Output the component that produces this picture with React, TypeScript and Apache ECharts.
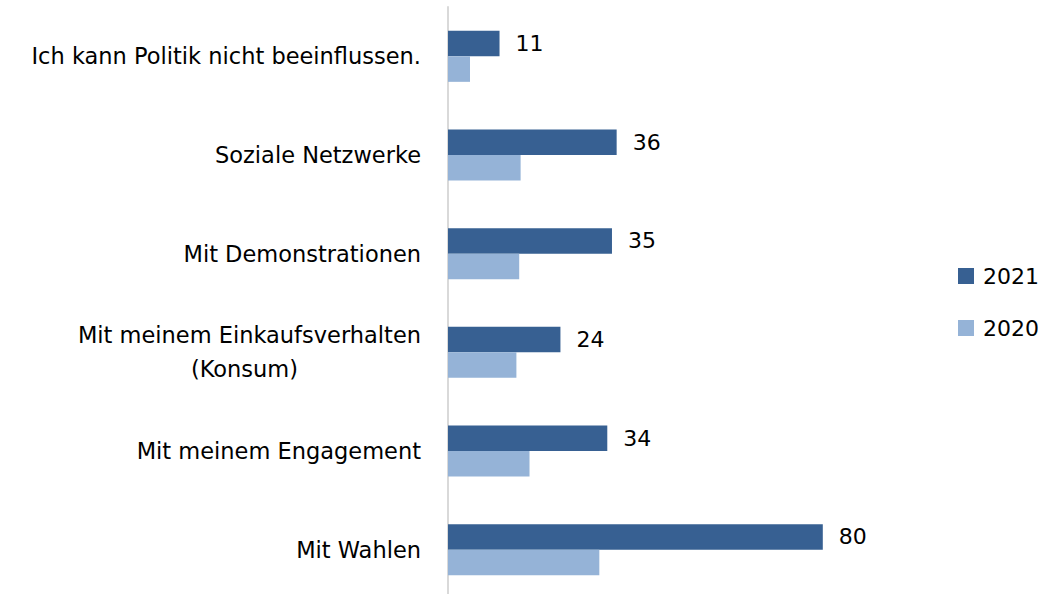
import React, { useEffect, useRef } from "react";
import * as echarts from "echarts";

const categories = [
  "Ich kann Politik nicht beeinflussen.",
  "Soziale Netzwerke",
  "Mit Demonstrationen",
  "Mit meinem Einkaufsverhalten\n(Konsum)",
  "Mit meinem Engagement",
  "Mit Wahlen",
];
const seriesNames = ["2021", "2020"];
const values2021 = [11, 36, 35, 24, 34, 80];
const values2020 = [4.7, 15.5, 15.2, 14.6, 17.4, 32.3];

const FONT = "DejaVu Sans";

export default function App() {
  const ref = useRef<HTMLDivElement>(null);
  useEffect(() => {
    document.body.style.margin = "0";
    const chart = echarts.init(ref.current!, null, { renderer: "svg" });
    chart.setOption({
      animation: false,
      backgroundColor: "#ffffff",
      textStyle: { fontFamily: FONT },
      legend: {
        data: seriesNames,
        orient: "vertical",
        left: 958,
        top: 265,
        padding: 0,
        itemWidth: 16,
        itemHeight: 16,
        itemGap: 30,
        icon: "rect",
        textStyle: { fontSize: 22, fontFamily: FONT, color: "#000", padding: [0, 0, 0, 4] },
      },
      grid: { left: 448, top: 7, width: 468.5, height: 592, outerBoundsMode: "none", containLabel: false },
      xAxis: { type: "value", min: 0, max: 100, show: false },
      yAxis: {
        type: "category",
        inverse: true,
        data: categories,
        axisLine: { show: true, lineStyle: { color: "#d9d9d9", width: 2 } },
        axisTick: { show: false },
        axisLabel: {
          margin: 27,
          color: "#000",
          fontSize: 22.5,
          fontFamily: FONT,
          formatter: (v: string) =>
            v
              .split("\n")
              .map((l, i) => (i === 0 ? `{c|${l}}` : `{k|${l}}`))
              .join("\n"),
          rich: {
            c: { align: "center", fontSize: 22.5, lineHeight: 34, fontFamily: FONT, color: "#000" },
            k: { align: "center", fontSize: 22.5, lineHeight: 34, fontFamily: FONT, color: "#000", padding: [0, 10, 0, 0] },
          },
        },
      },
      series: [
        {
          name: seriesNames[0],
          type: "bar",
          data: values2021,
          barWidth: 25.5,
          barGap: "0%",
          itemStyle: { color: "#376092" },
          label: { show: true, position: "right", distance: 16, color: "#000", fontSize: 22, fontFamily: FONT },
        },
        {
          name: seriesNames[1],
          type: "bar",
          data: values2020,
          barWidth: 25.5,
          barGap: "0%",
          itemStyle: { color: "#95b3d7" },
        },
      ],
    });
    return () => chart.dispose();
  }, []);
  return <div ref={ref} style={{ width: 1046, height: 594 }} />;
}
